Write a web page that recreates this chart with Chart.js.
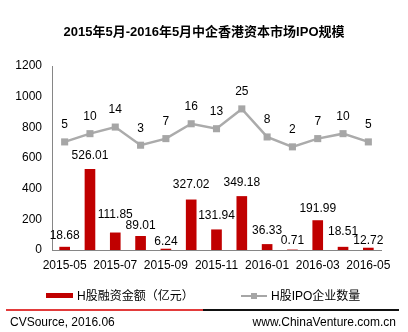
<!DOCTYPE html>
<html>
<head>
<meta charset="utf-8">
<script src="https://cdn.jsdelivr.net/npm/chart.js@4"></script>
<style>
  html, body { margin: 0; padding: 0; background: #fff; }
  body { width: 408px; height: 332px; position: relative; overflow: hidden;
         font-family: "Liberation Sans", Arial, "Noto Sans CJK SC", sans-serif; color: #000; }
  #wrap { position: absolute; left: 0; top: 0; width: 408px; height: 332px; }
  .title { position: absolute; left: 0; width: 408px; top: 23px; text-align: center;
           font-size: 13px; font-weight: bold; line-height: 18px; }
  .legend { position: absolute; top: 288px; font-size: 12px; line-height: 16px; }
  .footer-line { position: absolute; top: 309px; height: 1.5px; }
  .footer { position: absolute; top: 314px; font-size: 12px; line-height: 16px; }
</style>
</head>
<body>
<div id="wrap"><canvas id="ipo-chart"></canvas></div>

<div class="title">2015年5月-2016年5月中企香港资本市场IPO规模</div>

<div style="position:absolute;left:46px;top:293px;width:27px;height:5px;background:#C00000;"></div>
<div class="legend" style="left:77px;">H股融资金额（亿元）</div>
<div style="position:absolute;left:241px;top:295px;width:26px;height:2px;background:#A6A6A6;"></div>
<div style="position:absolute;left:251px;top:293px;width:6px;height:6px;background:#A6A6A6;"></div>
<div class="legend" style="left:271px;">H股IPO企业数量</div>

<div class="footer-line" style="left:6px;width:197px;background:#E23B3B;"></div>
<div class="footer-line" style="left:203px;width:196px;background:#111;"></div>
<div class="footer" style="left:10px;">CVSource, 2016.06</div>
<div class="footer" style="right:12px;">www.ChinaVenture.com.cn</div>

<script>
// ==================== DATA ====================
const months = ['2015-05', '2015-06', '2015-07', '2015-08', '2015-09', '2015-10', '2015-11',
                '2015-12', '2016-01', '2016-02', '2016-03', '2016-04', '2016-05'];
const amounts = [18.68, 526.01, 111.85, 89.01, 6.24, 327.02, 131.94, 349.18, 36.33, 0.71, 191.99, 18.51, 12.72];
const ipoCounts = [5, 10, 14, 3, 7, 16, 13, 25, 8, 2, 7, 10, 5];
const yTicks = [0, 200, 400, 600, 800, 1000, 1200];

const FONT = '"Liberation Sans", Arial, sans-serif';

// how far each bar label sits above its bar (hand placed in the original so they don't collide)
const barLabelLift = [11, 14, 18, 11, 7, 15, 14, 14, 14, 9, 12, 15, 7];

// draw value labels above bars and points
const valueLabels = {
  id: 'valueLabels',
  afterDatasetsDraw(chart) {
    const ctx = chart.ctx;
    ctx.save();
    ctx.font = '12px ' + FONT;
    ctx.fillStyle = '#000';
    ctx.textAlign = 'center';
    ctx.textBaseline = 'middle';
    chart.data.datasets.forEach((ds, i) => {
      const meta = chart.getDatasetMeta(i);
      meta.data.forEach((el, j) => {
        const v = ds.data[j];
        if (ds.type === 'line') {
          ctx.fillText(String(v), el.x, el.y - 17);
        } else {
          ctx.fillText(v.toFixed(2), el.x, el.y - barLabelLift[j]);
        }
      });
    });
    ctx.restore();
  }
};

new Chart(document.getElementById('ipo-chart'), {
  data: {
    labels: months,
    datasets: [
      {
        type: 'line',
        label: 'H股IPO企业数量',
        data: ipoCounts,
        yAxisID: 'y1',
        borderColor: '#ABABAB',
        backgroundColor: '#A6A6A6',
        borderWidth: 2.5,
        pointStyle: 'rect',
        pointRadius: 5,
        pointHoverRadius: 5,
        pointBorderWidth: 0,
        tension: 0
      },
      {
        type: 'bar',
        label: 'H股融资金额（亿元）',
        data: amounts,
        yAxisID: 'y',
        backgroundColor: '#C00000',
        barThickness: 10
      }
    ]
  },
  options: {
    responsive: true,
    maintainAspectRatio: false,
    animation: false,
    layout: { padding: { top: 66, right: 27, bottom: 58, left: 0 } },
    plugins: {
      legend: { display: false },
      title: { display: false },
      tooltip: { enabled: false }
    },
    scales: {
      x: {
        offset: true,
        grid: { display: false, drawTicks: false },
        border: { display: true, color: '#868686', width: 1 },
        ticks: {
          autoSkip: false,
          maxRotation: 0,
          padding: 8,
          color: '#000',
          font: { family: FONT, size: 12 },
          callback: (val, idx) => idx % 2 === 0 ? months[idx] : ''
        },
        afterFit: (scale) => { scale.height = 24; }
      },
      y: {
        position: 'left',
        min: 0,
        max: 1200,
        grid: { display: false, drawTicks: false },
        border: { display: true, color: '#868686', width: 1 },
        afterBuildTicks: (scale) => { scale.ticks = yTicks.map(v => ({ value: v })); },
        ticks: {
          padding: 10,
          color: '#000',
          font: { family: FONT, size: 12 },
          callback: (val) => String(val)
        },
        afterFit: (scale) => { scale.width = 52; }
      },
      y1: {
        display: false,
        min: -60.5,
        max: 51
      }
    }
  },
  plugins: [valueLabels]
});
</script>
</body>
</html>
